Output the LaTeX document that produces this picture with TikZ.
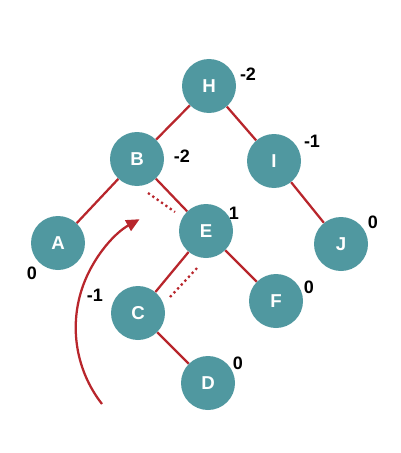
\documentclass[tikz,border=0pt]{standalone}
\usepackage{fontspec}
\setmainfont{Liberation Sans}
\usepackage{tikz}
\usetikzlibrary{arrows.meta}
\definecolor{tealnode}{RGB}{80,152,160}
\definecolor{edgered}{RGB}{184,38,44}

\begin{document}
\begin{tikzpicture}[x=0.75pt,y=-0.75pt,
  vx/.style={circle,fill=tealnode,minimum size=40.5pt,inner sep=0pt,text=white,font=\bfseries\fontsize{14}{14}\selectfont},
  bal/.style={font=\bfseries\fontsize{13.5}{13.5}\selectfont,inner sep=0pt},
  edge/.style={edgered,line width=1.7pt},
  hint/.style={edgered,line width=1.7pt,dash pattern=on 1.7pt off 2.3pt}]
\useasboundingbox (0,0) rectangle (400,453);
% vertices
\node[vx] (H) at (209,86) {H};
\node[vx] (B) at (137,159) {B};
\node[vx] (I) at (274,161) {I};
\node[vx] (A) at (58,243) {A};
\node[vx] (E) at (206,231) {E};
\node[vx] (J) at (341,244) {J};
\node[vx] (C) at (138,313) {C};
\node[vx] (F) at (276,301) {F};
\node[vx] (D) at (208,383) {D};
% balance factors
\node[bal] (bH) at (248,74) {-2};
\node[bal] (bB) at (182,156) {-2};
\node[bal] (bI) at (312,141) {-1};
\node[bal] (bA) at (32,273) {0};
\node[bal] (bE) at (234,213) {1};
\node[bal] (bJ) at (373,222) {0};
\node[bal] (bC) at (95,295) {-1};
\node[bal] (bF) at (309,287) {0};
\node[bal] (bD) at (238,363) {0};
% edges
\draw[edge] (H) -- (B);
\draw[edge] (H) -- (I);
\draw[edge] (B) -- (A);
\draw[edge] (B) -- (E);
\draw[edge] (I) -- (J);
\draw[edge] (E) -- (C);
\draw[edge] (E) -- (F);
\draw[edge] (C) -- (D);
% rotation hints
\coordinate (r1) at (148,193);
\coordinate (r2) at (175,212);
\coordinate (r3) at (170,297);
\coordinate (r4) at (198,267);
\draw[hint] (r1) -- (r2);
\draw[hint] (r3) -- (r4);
\coordinate (rs) at (102,404);
\draw[edgered,line width=1.7pt,-{Triangle[length=10pt,width=9pt]}] (rs) arc[start angle=142,end angle=241,radius=124];
\end{tikzpicture}
\end{document}
